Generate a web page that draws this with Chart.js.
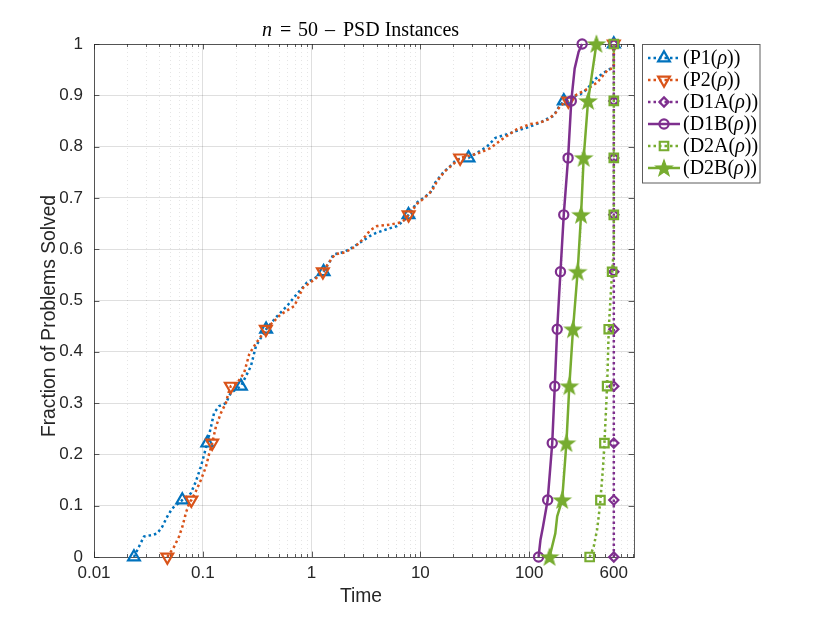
<!DOCTYPE html>
<html>
<head>
<meta charset="utf-8">
<script src="https://cdn.jsdelivr.net/npm/chart.js"></script>
<style>
html,body{margin:0;padding:0;background:#fff;}
#wrap{width:830px;height:623px;}
</style>
</head>
<body>
<div id="wrap"><canvas id="c" width="830" height="623"></canvas></div>
<script>
// ---------------- data ----------------
const xTickValues = [0.01, 0.1, 1, 10, 100, 600];
const xTickLabels = ['0.01', '0.1', '1', '10', '100', '600'];
const xMinorTicks = [0.02,0.03,0.04,0.05,0.06,0.07,0.08,0.09,
                     0.2,0.3,0.4,0.5,0.6,0.7,0.8,0.9,
                     2,3,4,5,6,7,8,9,
                     20,30,40,50,60,70,80,90,
                     200,300,400,500,700,800,900];
const yTickValues = [0,0.1,0.2,0.3,0.4,0.5,0.6,0.7,0.8,0.9,1];
const yTickLabels = ['0','0.1','0.2','0.3','0.4','0.5','0.6','0.7','0.8','0.9','1'];
const markerFracs = [0,0.111,0.222,0.333,0.444,0.556,0.667,0.778,0.889,1];

const seriesNames = ['P1', 'P2', 'D1A', 'D1B', 'D2A', 'D2B'];

const p1Time = [0.0233,0.0259,0.0288,0.0343,0.0382,0.0424,0.0472,0.0525,0.0648,0.0776,0.0863,0.096,0.103,0.110,0.119,0.127,0.141,0.163,0.181,0.224,0.277,0.308,0.382,0.48,0.593,0.683,0.906,1.08,1.29,1.48,1.59,1.96,2.35,2.8,3.46,3.85,4.93,6.1,7.0,7.78,9.31,10.7,12.3,13.7,16.3,18.8,21.7,27.7,33.2,41.0,48.9,62.6,77.4,95.7,127,146,168,187,208,239,296,341,406,484,579,600,600];
const p1Frac = [0,0.02,0.04,0.043,0.046,0.059,0.079,0.095,0.111,0.124,0.147,0.176,0.2,0.222,0.254,0.281,0.294,0.3,0.32,0.333,0.372,0.411,0.444,0.469,0.489,0.505,0.535,0.544,0.556,0.577,0.59,0.594,0.603,0.613,0.626,0.631,0.639,0.645,0.655,0.667,0.691,0.7,0.71,0.73,0.75,0.762,0.775,0.778,0.788,0.8,0.817,0.824,0.831,0.837,0.847,0.854,0.86,0.877,0.889,0.896,0.902,0.912,0.932,0.944,0.954,0.958,1];

const p2Time = [0.0472,0.0545,0.0605,0.0649,0.0698,0.0748,0.0785,0.0863,0.096,0.107,0.114,0.122,0.132,0.147,0.163,0.171,0.181,0.208,0.24,0.267,0.296,0.38,0.522,0.692,0.837,1.08,1.27,1.51,1.65,2.04,2.52,2.92,3.46,3.99,5.28,6.53,7.26,7.8,9.4,10.9,12.8,14.3,16.6,19.6,23.2,33.2,44,54.3,77.4,102.6,127,150,174,194,229,276,341,422,521,598,600,600];
const p2Frac = [0,0.02,0.04,0.059,0.085,0.105,0.111,0.128,0.15,0.176,0.2,0.222,0.254,0.281,0.3,0.318,0.333,0.34,0.359,0.395,0.411,0.444,0.473,0.489,0.525,0.542,0.556,0.58,0.59,0.594,0.605,0.618,0.637,0.645,0.648,0.652,0.658,0.667,0.689,0.7,0.714,0.733,0.751,0.764,0.778,0.786,0.797,0.812,0.834,0.844,0.847,0.853,0.865,0.88,0.889,0.902,0.912,0.925,0.948,0.954,0.958,1];

const d1aTime = [600,600,600,600,600,600,600,600,600,600];
const d1aFrac = [0,0.111,0.222,0.333,0.444,0.556,0.667,0.778,0.889,1];

const d1bTime = [122,127,134,148,163,172,181,194,208,228,244,262,285,307];
const d1bFrac = [0,0.033,0.059,0.111,0.222,0.333,0.444,0.556,0.667,0.778,0.889,0.952,0.985,1];

const d2aTime = [360,392,421,436,452,478,492,521,539,558,579,600,600,600,600,600];
const d2aFrac = [0,0.02,0.053,0.079,0.111,0.176,0.222,0.333,0.444,0.5,0.556,0.6,0.667,0.778,0.889,1];

const d2bTime = [154,174,181,201,220,234,253,279,300,317,348,415];
const d2bFrac = [0,0.046,0.079,0.111,0.222,0.333,0.444,0.556,0.667,0.778,0.889,1];

// ---------------- styles ----------------
const SANS = '"Liberation Sans", Arial, Helvetica, sans-serif';
const SERIF = '"Liberation Serif", "Times New Roman", serif';
const AX = '#262626';

function makeStar(color) {
  const c = document.createElement('canvas');
  c.width = 22; c.height = 22;
  const g = c.getContext('2d');
  const R = 8.6, r = R * 0.40, cx = 11, cy = 11.6;
  g.beginPath();
  for (let k = 0; k < 10; k++) {
    const a = -Math.PI / 2 + k * Math.PI / 5;
    const rad = (k % 2 === 0) ? R : r;
    const px = cx + rad * Math.cos(a), py = cy + rad * Math.sin(a);
    if (k === 0) g.moveTo(px, py); else g.lineTo(px, py);
  }
  g.closePath();
  g.fillStyle = color; g.fill();
  g.lineWidth = 1.2; g.strokeStyle = color; g.lineJoin = 'miter'; g.stroke();
  return c;
}

const green = '#77AC30';
const starImg = makeStar(green);
const DOT = [2.5, 3];

const styles = [
  { color: '#0072BD', dash: DOT, marker: 'triangle', radius: 6.8, rot: 0 },
  { color: '#D95319', dash: DOT, marker: 'triangle', radius: 6.8, rot: 180 },
  { color: '#7E2F8E', dash: DOT, marker: 'rectRot', radius: 4.6, rot: 0 },
  { color: '#7E2F8E', dash: [], marker: 'circle', radius: 4.6, rot: 0 },
  { color: green, dash: DOT, marker: 'rect', radius: 6, rot: 0 },
  { color: green, dash: [], marker: starImg, radius: 9, rot: 0 }
];

const seriesTime = [p1Time, p2Time, d1aTime, d1bTime, d2aTime, d2bTime];
const seriesFrac = [p1Frac, p2Frac, d1aFrac, d1bFrac, d2aFrac, d2bFrac];

function isMarker(v) {
  return markerFracs.some(m => Math.abs(m - v) < 1e-9);
}

const datasets = seriesNames.map((name, i) => {
  const t = seriesTime[i], f = seriesFrac[i];
  const n = Math.min(t.length, f.length);
  const data = [];
  for (let j = 0; j < n; j++) data.push({ x: t[j], y: f[j] });
  const st = styles[i];
  return {
    label: name,
    data: data,
    borderColor: st.color,
    backgroundColor: st.color,
    borderWidth: 2.5,
    borderDash: st.dash,
    borderCapStyle: 'butt',
    borderJoinStyle: 'round',
    tension: 0,
    fill: false,
    clip: false,
    order: 5 - i,
    pointStyle: st.marker,
    pointRotation: st.rot,
    pointRadius: (ctx) => {
      const raw = ctx.raw;
      return raw && isMarker(raw.y) ? st.radius : 0;
    },
    pointHoverRadius: 0,
    pointBorderWidth: 2.2,
    pointBorderColor: st.color,
    pointBackgroundColor: 'rgba(255,255,255,0)'
  };
});

// ---------------- plugins ----------------
const framePlugin = {
  id: 'frame',
  beforeDatasetsDraw(chart) {
    const { ctx, chartArea: { left, right, top, bottom }, scales: { x, y } } = chart;
    ctx.save();
    ctx.strokeStyle = 'rgba(38,38,38,0.12)';
    ctx.lineWidth = 1;
    ctx.setLineDash([1, 3]);
    xMinorTicks.forEach(v => {
      const px = Math.round(x.getPixelForValue(v)) + 0.5;
      ctx.beginPath(); ctx.moveTo(px, top); ctx.lineTo(px, bottom); ctx.stroke();
    });
    ctx.setLineDash([]);
    ctx.strokeStyle = 'rgba(38,38,38,0.75)';
    ctx.lineWidth = 1;
    ctx.strokeRect(Math.round(left) + 0.5, Math.round(top) + 0.5, Math.round(right - left), Math.round(bottom - top));
    ctx.beginPath();
    xTickValues.forEach(v => {
      const px = Math.round(x.getPixelForValue(v)) + 0.5;
      ctx.moveTo(px, bottom); ctx.lineTo(px, bottom - 5.4);
      ctx.moveTo(px, top); ctx.lineTo(px, top + 5.4);
    });
    xMinorTicks.forEach(v => {
      const px = Math.round(x.getPixelForValue(v)) + 0.5;
      ctx.moveTo(px, bottom); ctx.lineTo(px, bottom - 3);
      ctx.moveTo(px, top); ctx.lineTo(px, top + 3);
    });
    yTickValues.forEach(v => {
      const py = Math.round(y.getPixelForValue(v)) + 0.5;
      ctx.moveTo(left, py); ctx.lineTo(left + 5.4, py);
      ctx.moveTo(right, py); ctx.lineTo(right - 5.4, py);
    });
    ctx.stroke();
    ctx.restore();
  }
};

function drawMarker(ctx, st, x, y) {
  ctx.save();
  ctx.strokeStyle = st.color;
  ctx.lineWidth = 2.2;
  ctx.setLineDash([]);
  const r = st.radius;
  if (st.marker instanceof HTMLCanvasElement) {
    ctx.drawImage(st.marker, x - st.marker.width / 2, y - st.marker.height / 2);
    ctx.restore();
    return;
  }
  ctx.beginPath();
  if (st.marker === 'circle') {
    ctx.arc(x, y, r, 0, Math.PI * 2);
  } else if (st.marker === 'triangle') {
    let a = st.rot * Math.PI / 180;
    for (let k = 0; k < 3; k++) {
      const px = x + Math.sin(a) * r, py = y - Math.cos(a) * r;
      if (k === 0) ctx.moveTo(px, py); else ctx.lineTo(px, py);
      a += 2 * Math.PI / 3;
    }
    ctx.closePath();
  } else if (st.marker === 'rectRot') {
    ctx.moveTo(x, y - r); ctx.lineTo(x + r, y); ctx.lineTo(x, y + r); ctx.lineTo(x - r, y); ctx.closePath();
  } else if (st.marker === 'rect') {
    const s = r / Math.SQRT2;
    ctx.rect(x - s, y - s, 2 * s, 2 * s);
  }
  ctx.stroke();
  ctx.restore();
}

const overlayPlugin = {
  id: 'overlay',
  afterDraw(chart) {
    const { ctx } = chart;
    ctx.save();
    ctx.fillStyle = '#000';
    ctx.textBaseline = 'alphabetic';
    const tb = 35.5;
    ctx.textAlign = 'left';
    ctx.font = 'italic 20px ' + SERIF;
    ctx.fillText('n', 262, tb);
    ctx.font = '20px ' + SERIF;
    ctx.fillText('=', 280, tb);
    ctx.fillText('50', 298, tb);
    ctx.fillText('\u2013', 325, tb);
    ctx.fillText('PSD Instances', 343, tb);

    ctx.fillStyle = AX;
    ctx.font = '19.3px ' + SANS;
    ctx.textAlign = 'center';
    ctx.textBaseline = 'middle';
    ctx.fillText('Time', 361, 597);
    ctx.save();
    ctx.translate(50, 316);
    ctx.rotate(-Math.PI / 2);
    ctx.fillText('Fraction of Problems Solved', 0, 0);
    ctx.restore();

    const bx = 642.5, by = 44.5, bw = 117.5, bh = 138.5;
    ctx.fillStyle = '#fff';
    ctx.fillRect(bx, by, bw, bh);
    ctx.strokeStyle = 'rgba(38,38,38,0.75)';
    ctx.lineWidth = 1;
    ctx.strokeRect(bx, by, bw, bh);
    seriesNames.forEach((name, i) => {
      const st = styles[i];
      const yy = 58 + i * 22;
      ctx.save();
      ctx.strokeStyle = st.color;
      ctx.lineWidth = 2.5;
      ctx.setLineDash(st.dash);
      ctx.beginPath(); ctx.moveTo(648, yy); ctx.lineTo(680, yy); ctx.stroke();
      ctx.restore();
      drawMarker(ctx, st, 664, yy);
      ctx.fillStyle = '#000';
      ctx.textAlign = 'left';
      ctx.textBaseline = 'middle';
      let tx = 683;
      ctx.font = '20px ' + SERIF;
      const s1 = '(' + name + '(';
      ctx.fillText(s1, tx, yy + 1);
      tx += ctx.measureText(s1).width;
      ctx.font = 'italic 20px ' + SERIF;
      ctx.fillText('\u03C1', tx, yy + 1);
      tx += ctx.measureText('\u03C1').width;
      ctx.font = '20px ' + SERIF;
      ctx.fillText('))', tx, yy + 1);
    });
    ctx.restore();
  }
};

// ---------------- chart ----------------
const chart = new Chart(document.getElementById('c').getContext('2d'), {
  type: 'line',
  data: { datasets: datasets },
  options: {
    responsive: false,
    animation: false,
    devicePixelRatio: 1,
    layout: { padding: { left: 0, right: 196, top: 44, bottom: 0 } },
    plugins: {
      legend: { display: false },
      title: { display: false },
      tooltip: { enabled: false }
    },
    events: [],
    scales: {
      x: {
        type: 'logarithmic',
        position: 'bottom',
        min: 0.01,
        max: 920,
        afterBuildTicks: (s) => { s.ticks = xTickValues.map(v => ({ value: v, major: false })); },
        afterFit: (s) => { s.height = 66; },
        ticks: {
          autoSkip: false, maxRotation: 0, minRotation: 0, padding: 6,
          color: AX, font: { family: SANS, size: 17 },
          callback: (v, i) => xTickLabels[i]
        },
        grid: { color: 'rgba(38,38,38,0.15)', lineWidth: 1, drawTicks: false },
        border: { display: false }
      },
      y: {
        type: 'linear',
        min: 0,
        max: 1,
        afterBuildTicks: (s) => { s.ticks = yTickValues.map(v => ({ value: v })); },
        afterFit: (s) => { s.width = 94; },
        ticks: {
          padding: 11, color: AX, font: { family: SANS, size: 17 },
          callback: (v, i) => yTickLabels[i]
        },
        grid: { color: 'rgba(38,38,38,0.15)', lineWidth: 1, drawTicks: false },
        border: { display: false }
      }
    }
  },
  plugins: [framePlugin, overlayPlugin]
});
</script>
</body>
</html>
